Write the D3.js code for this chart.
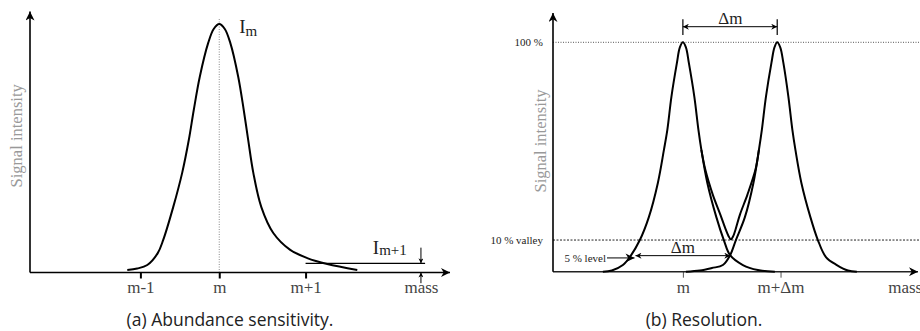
<!DOCTYPE html>
<html>
<head>
<meta charset="utf-8">
<script src="https://cdn.jsdelivr.net/npm/d3@7"></script>
<style>
  body { margin: 0; background: #fff; }
  svg { display: block; }
</style>
</head>
<body>
<div id="chart"></div>
<script>
// (a) abundance sensitivity: one peak at m (m = 0), tail reaching past m+1
var massA      = [-1.108, -0.988, -0.867, -0.741, -0.675, -0.554, -0.446, -0.367, -0.307, -0.235, -0.133, -0.067, 0,
                  0.067, 0.133, 0.229, 0.295, 0.349, 0.410, 0.506, 0.651, 0.855, 1.060, 1.301, 1.663];
var intensityA = [0.010, 0.016, 0.030, 0.078, 0.131, 0.264, 0.402, 0.533, 0.654, 0.787, 0.924, 0.980, 1,
                  0.980, 0.924, 0.787, 0.654, 0.533, 0.402, 0.264, 0.159, 0.091, 0.058, 0.034, 0.010];
var ticksA  = [-0.95, 0, 1.04, 2.43];
var labelsA = ["m-1", "m", "m+1", "mass"];
var levelA  = 0.037;   // I(m+1)

// (b) resolution: two peaks a distance dm apart (m = 0, m+dm = 1)
var massB1      = [-0.844, -0.749, -0.633, -0.559, -0.454, -0.359, -0.264, -0.200, -0.164, -0.121, -0.063, -0.032, 0,
                   0.032, 0.063, 0.121, 0.164, 0.195, 0.258, 0.353, 0.432, 0.498, 0.633, 0.791, 0.970];
var intensityB1 = [0, 0.005, 0.029, 0.064, 0.138, 0.238, 0.387, 0.531, 0.618, 0.762, 0.910, 0.978, 1,
                   0.978, 0.910, 0.762, 0.618, 0.531, 0.387, 0.238, 0.138, 0.072, 0.029, 0.007, 0];
var massB2      = [0.032, 0.179, 0.306, 0.422, 0.498, 0.559, 0.654, 0.744, 0.802, 0.833, 0.876, 0.934, 0.966, 0.995,
                   1.027, 1.060, 1.113, 1.155, 1.187, 1.250, 1.345, 1.424, 1.509, 1.624, 1.741, 1.835];
var intensityB2 = [0, 0.005, 0.016, 0.029, 0.072, 0.138, 0.238, 0.387, 0.531, 0.618, 0.762, 0.910, 0.978, 1,
                   0.978, 0.910, 0.762, 0.618, 0.531, 0.387, 0.238, 0.138, 0.064, 0.029, 0.005, 0];
var massSum      = [0.195, 0.237, 0.316, 0.396, 0.454, 0.481, 0.506, 0.532, 0.554, 0.601, 0.680, 0.765, 0.802];
var intensitySum = [0.531, 0.444, 0.335, 0.248, 0.182, 0.156, 0.141, 0.156, 0.182, 0.248, 0.335, 0.444, 0.531];
var ticksB  = [0, 1.03, 2.34];
var labelsB = ["m", "m+Δm", "mass"];
var valley  = 0.138;
var level5  = 0.07;

var width = 920, height = 331;
var serif = "'Liberation Serif', 'Times New Roman', serif";
var sans = "'Open Sans', Lato, sans-serif";

var svg = d3.select("#chart").append("svg")
    .attr("width", width)
    .attr("height", height);

var defs = svg.append("defs");
function marker(id, w, h) {
    defs.append("marker")
        .attr("id", id)
        .attr("viewBox", "0 -5 10 10")
        .attr("refX", 10).attr("refY", 0)
        .attr("markerWidth", w).attr("markerHeight", h)
        .attr("markerUnits", "userSpaceOnUse")
        .attr("orient", "auto-start-reverse")
        .append("path")
        .attr("d", "M0,-5L10,0L0,5L3,0Z")
        .attr("fill", "#000");
}
marker("big", 12, 9);
marker("small", 8, 6);
marker("tiny", 6, 5);

function zip(xs, ys) {
    return xs.map(function(x, i) { return [x, ys[i]]; });
}

// ---------- panel (a) ----------
var xA = d3.scaleLinear().domain([-2.28, 2.78]).range([30, 450]);
var yA = d3.scaleLinear().domain([0, 1]).range([272.5, 24]);
var gA = svg.append("g");

var lineA = d3.line()
    .x(function(d) { return xA(d[0]); })
    .y(function(d) { return yA(d[1]); })
    .curve(d3.curveCatmullRom.alpha(0.5));

// dotted guide at m
gA.append("line")
    .attr("x1", xA(0)).attr("x2", xA(0))
    .attr("y1", yA(1.02)).attr("y2", yA(0))
    .attr("stroke", "#888").attr("stroke-width", 1)
    .attr("stroke-dasharray", "1,1.5");

var axisA = d3.axisBottom(xA)
    .tickValues(ticksA)
    .tickFormat(function(d, i) { return labelsA[i]; })
    .tickSize(6)
    .tickSizeOuter(0);
var axA = gA.append("g").attr("transform", "translate(0," + yA(0) + ")").call(axisA);
axA.select(".domain").remove();
axA.selectAll(".tick line").attr("stroke", "#000").attr("stroke-width", 2)
    .attr("opacity", function(d, i) { return i === 3 ? 0 : 1; });
axA.selectAll(".tick text")
    .attr("y", 20.5).attr("dy", 0)
    .attr("font-family", serif).attr("font-size", 17).attr("fill", "#444");

// axes with arrow heads
gA.append("line")
    .attr("x1", xA.range()[0]).attr("x2", xA.range()[1])
    .attr("y1", yA(0)).attr("y2", yA(0))
    .attr("stroke", "#000").attr("stroke-width", 1.6)
    .attr("marker-end", "url(#big)");
gA.append("line")
    .attr("x1", xA.range()[0]).attr("x2", xA.range()[0])
    .attr("y1", yA(0)).attr("y2", yA(1.05))
    .attr("stroke", "#000").attr("stroke-width", 1.6)
    .attr("marker-end", "url(#big)");

gA.append("path")
    .datum(zip(massA, intensityA))
    .attr("d", lineA)
    .attr("fill", "none").attr("stroke", "#000").attr("stroke-width", 2);

// I(m+1) level and its arrows
gA.append("line")
    .attr("x1", xA(1.04)).attr("x2", xA(2.48))
    .attr("y1", yA(levelA)).attr("y2", yA(levelA))
    .attr("stroke", "#000").attr("stroke-width", 1.2);
gA.append("line")
    .attr("x1", xA(2.43)).attr("x2", xA(2.43))
    .attr("y1", yA(0.1)).attr("y2", yA(levelA))
    .attr("stroke", "#000").attr("stroke-width", 1)
    .attr("marker-end", "url(#tiny)");
gA.append("line")
    .attr("x1", xA(2.43)).attr("x2", xA(2.43))
    .attr("y1", yA(-0.043)).attr("y2", yA(0))
    .attr("stroke", "#000").attr("stroke-width", 1)
    .attr("marker-end", "url(#tiny)");

var im = gA.append("text")
    .attr("x", xA(0.24)).attr("y", 33)
    .attr("font-family", serif).attr("font-size", 19).attr("fill", "#222");
im.append("tspan").text("I");
im.append("tspan").attr("dy", 3).attr("font-size", 15).text("m");

var im1 = gA.append("text")
    .attr("x", xA(1.85)).attr("y", 254)
    .attr("font-family", serif).attr("font-size", 19).attr("fill", "#222");
im1.append("tspan").text("I");
im1.append("tspan").attr("dy", 1).attr("font-size", 15).text("m+1");

gA.append("text")
    .attr("transform", "translate(22," + yA(0.55) + ") rotate(-90)")
    .attr("text-anchor", "middle")
    .attr("font-family", serif).attr("font-size", 16.5).attr("fill", "#999")
    .text("Signal intensity");

// ---------- panel (b) ----------
var xB = d3.scaleLinear().domain([-1.37, 2.48]).range([553, 918]);
var yB = d3.scaleLinear().domain([0, 1]).range([271.7, 42.3]);
var gB = svg.append("g");

var lineB = d3.line()
    .x(function(d) { return xB(d[0]); })
    .y(function(d) { return yB(d[1]); })
    .curve(d3.curveCatmullRom.alpha(0.5));

gB.append("line")
    .attr("x1", xB.range()[0]).attr("x2", width)
    .attr("y1", yB(1)).attr("y2", yB(1))
    .attr("stroke", "#555").attr("stroke-width", 1)
    .attr("stroke-dasharray", "1,1.5");
gB.append("line")
    .attr("x1", xB.range()[0]).attr("x2", width)
    .attr("y1", yB(valley)).attr("y2", yB(valley))
    .attr("stroke", "#222").attr("stroke-width", 1)
    .attr("stroke-dasharray", "2,1.5");

var axisB = d3.axisBottom(xB)
    .tickValues(ticksB)
    .tickFormat(function(d, i) { return labelsB[i]; })
    .tickSize(6)
    .tickSizeOuter(0);
var axB = gB.append("g").attr("transform", "translate(0," + yB(0) + ")").call(axisB);
axB.select(".domain").remove();
axB.selectAll(".tick line").attr("stroke", "#555").attr("stroke-width", 1)
    .attr("opacity", function(d, i) { return i === 2 ? 0 : 1; });
axB.selectAll(".tick text")
    .attr("y", 21.5).attr("dy", 0)
    .attr("font-family", serif).attr("font-size", 17).attr("fill", "#444");

gB.append("line")
    .attr("x1", xB.range()[0]).attr("x2", xB.range()[1])
    .attr("y1", yB(0)).attr("y2", yB(0))
    .attr("stroke", "#222").attr("stroke-width", 1.6)
    .attr("marker-end", "url(#big)");
gB.append("line")
    .attr("x1", xB.range()[0]).attr("x2", xB.range()[0])
    .attr("y1", yB(0)).attr("y2", yB(1.128))
    .attr("stroke", "#000").attr("stroke-width", 1.6)
    .attr("marker-end", "url(#big)");

[zip(massB1, intensityB1), zip(massB2, intensityB2), zip(massSum, intensitySum)].forEach(function(pts) {
    gB.append("path")
        .datum(pts)
        .attr("d", lineB)
        .attr("fill", "none").attr("stroke", "#000").attr("stroke-width", 2);
});

// delta m between the peak tops
[0, 0.995].forEach(function(m) {
    gB.append("line")
        .attr("x1", xB(m)).attr("x2", xB(m))
        .attr("y1", yB(1.1)).attr("y2", yB(1.032))
        .attr("stroke", "#000").attr("stroke-width", 1.2);
});
gB.append("line")
    .attr("x1", xB(0)).attr("x2", xB(0.995))
    .attr("y1", yB(1.068)).attr("y2", yB(1.068))
    .attr("stroke", "#000").attr("stroke-width", 1)
    .attr("marker-start", "url(#small)")
    .attr("marker-end", "url(#small)");
gB.append("text")
    .attr("x", xB(0.5)).attr("y", 24)
    .attr("text-anchor", "middle")
    .attr("font-family", serif).attr("font-size", 17).attr("fill", "#222")
    .text("Δm");

// delta m at the 5 % level
gB.append("line")
    .attr("x1", xB(-0.5)).attr("x2", xB(0.5))
    .attr("y1", yB(level5)).attr("y2", yB(level5))
    .attr("stroke", "#000").attr("stroke-width", 1)
    .attr("marker-start", "url(#small)")
    .attr("marker-end", "url(#small)");
gB.append("text")
    .attr("x", xB(0)).attr("y", 253)
    .attr("text-anchor", "middle")
    .attr("font-family", serif).attr("font-size", 17).attr("fill", "#222")
    .text("Δm");

gB.append("line")
    .attr("x1", 607).attr("x2", xB(-0.51))
    .attr("y1", yB(0.06)).attr("y2", yB(0.06))
    .attr("stroke", "#000").attr("stroke-width", 1)
    .attr("marker-end", "url(#big)");
gB.append("text")
    .attr("x", 606).attr("y", 262)
    .attr("text-anchor", "end")
    .attr("font-family", serif).attr("font-size", 11).attr("fill", "#222")
    .text("5 % level");

gB.append("text")
    .attr("x", 543).attr("y", yB(1) + 4)
    .attr("text-anchor", "end")
    .attr("font-family", serif).attr("font-size", 11).attr("fill", "#222")
    .text("100 %");
gB.append("text")
    .attr("x", 543).attr("y", yB(valley) + 4)
    .attr("text-anchor", "end")
    .attr("font-family", serif).attr("font-size", 11).attr("fill", "#222")
    .text("10 % valley");

gB.append("text")
    .attr("transform", "translate(546," + yB(0.57) + ") rotate(-90)")
    .attr("text-anchor", "middle")
    .attr("font-family", serif).attr("font-size", 16.5).attr("fill", "#999")
    .text("Signal intensity");

// captions
svg.append("text")
    .attr("x", 230).attr("y", 326)
    .attr("text-anchor", "middle")
    .attr("font-family", sans).attr("font-size", 17.5).attr("fill", "#222")
    .text("(a) Abundance sensitivity.");
svg.append("text")
    .attr("x", 704).attr("y", 326)
    .attr("text-anchor", "middle")
    .attr("font-family", sans).attr("font-size", 17.5).attr("fill", "#222")
    .text("(b) Resolution.");
</script>
</body>
</html>
